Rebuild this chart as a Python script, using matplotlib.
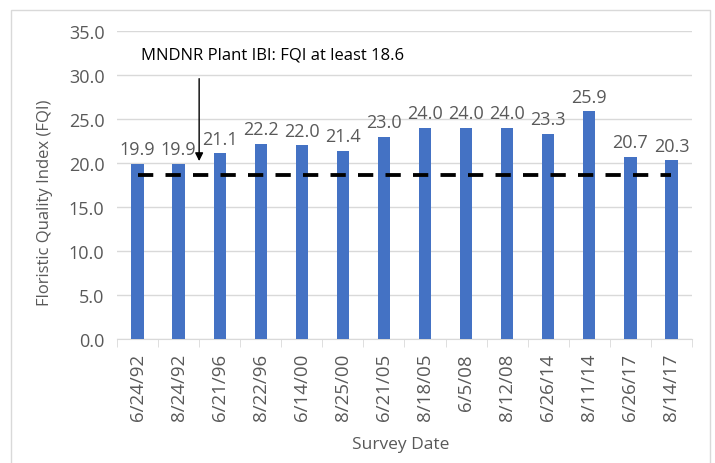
import matplotlib.pyplot as plt
import matplotlib.patches as mpatches
import numpy as np

plt.rcParams['font.family'] = ['Open Sans', 'DejaVu Sans']

dates = ['6/24/92', '8/24/92', '6/21/96', '8/22/96', '6/14/00', '8/25/00', '6/21/05',
         '8/18/05', '6/5/08', '8/12/08', '6/26/14', '8/11/14', '6/26/17', '8/14/17']
fqi = [19.9, 19.9, 21.1, 22.2, 22.0, 21.4, 23.0, 24.0, 24.0, 24.0, 23.3, 25.9, 20.7, 20.3]
threshold = 18.6
note = 'MNDNR Plant IBI: FQI at least 18.6'

grey = '#595959'
fig = plt.figure(figsize=(7.15, 4.64), dpi=100)
# outer chart border
fig.patches.append(mpatches.Rectangle((11/715, -0.1), 699/715, 1.1 - 11/464,
                                      transform=fig.transFigure, fill=False,
                                      edgecolor='#D9D9D9', linewidth=1))
ax = fig.add_axes([117/715, 124/464, 575/715, 308/464])

x = np.arange(len(dates))
ax.bar(x, fqi, width=0.3, color='#4472C4', zorder=3)
for xi, v in zip(x, fqi):
    ax.annotate(f'{v:.1f}', (xi, v), xytext=(0, 4), textcoords='offset points',
                ha='center', va='bottom', fontsize=13, color=grey)

ax.plot([x[0], x[-1]], [threshold, threshold], color='black', linewidth=2.75,
        dashes=(4, 3.2), zorder=4)

ax.annotate('', xy=(1.5, 19.9), xytext=(1.5, 29.9),
            arrowprops=dict(arrowstyle='-|>', color='black', lw=1, mutation_scale=12))
ax.text(3.28, 32.3, note, ha='center', va='center', fontsize=12, color='black')

ax.set_xlim(-0.5, len(dates) - 0.5)
ax.set_ylim(0, 35)
ax.set_yticks(np.arange(0, 36, 5))
ax.set_yticklabels([f'{t:.1f}' for t in np.arange(0, 36, 5)])
ax.set_xticks(x)
ax.set_xticklabels(dates, rotation=90)
ax.set_xticks(np.arange(-0.5, len(dates)), minor=True)
ax.tick_params(axis='x', which='major', length=0, pad=10, colors=grey, labelsize=13.5)
ax.tick_params(axis='x', which='minor', length=6, color='#D9D9D9')
ax.tick_params(axis='y', length=0, pad=9, colors=grey, labelsize=13)
ax.grid(axis='y', color='#D9D9D9', linewidth=1, zorder=0)
for s in ['top', 'right', 'left']:
    ax.spines[s].set_visible(False)
ax.spines['bottom'].set_color('#D9D9D9')

ax.set_ylabel('Floristic Quality Index (FQI)', fontsize=12, color=grey)
ax.yaxis.set_label_coords(-0.112, 0.445)
ax.set_xlabel('Survey Date', fontsize=12.5, color=grey)
ax.xaxis.set_label_coords(0.494, -0.315)

fig.savefig('out.png')
